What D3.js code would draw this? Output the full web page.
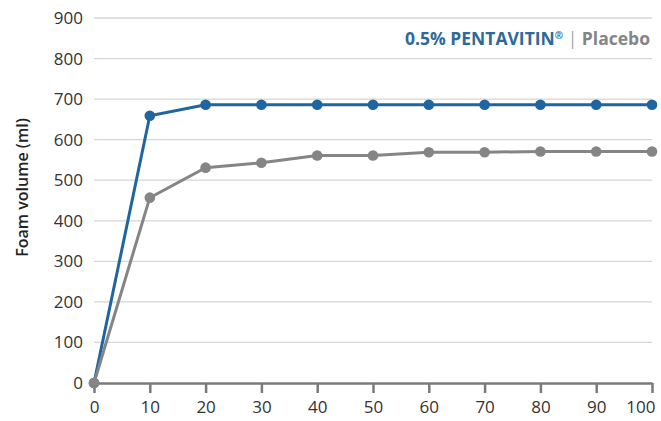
<html>
<script src="https://d3js.org/d3.v7.min.js"></script>
<style>
body { margin: 0; background: #fff; }
.axis { font: 17px "Open Sans", sans-serif; }
</style>
<body>
<script>
// data
var times = [0, 10, 20, 30, 40, 50, 60, 70, 80, 90, 100];
var pentavitin = [0, 659, 686, 686, 686, 686, 686, 686, 686, 686, 686];
var placebo = [0, 457, 531, 543, 561, 561, 569, 569, 571, 571, 571];
var yTicks = [0, 100, 200, 300, 400, 500, 600, 700, 800, 900];
var xTicks = [0, 10, 20, 30, 40, 50, 60, 70, 80, 90, 100];

var W = 661, H = 421;
var margin = {top: 18, right: 9, bottom: 38, left: 94};
var width = W - margin.left - margin.right,
    height = H - margin.top - margin.bottom;

var svg = d3.select("body").append("svg")
    .attr("width", W).attr("height", H)
  .append("g")
    .attr("transform", "translate(" + margin.left + "," + margin.top + ")");

var x = d3.scaleLinear().domain([0, 100]).range([0, width]);
var y = d3.scaleLinear().domain([0, 900]).range([height, 0]);

// gridlines
svg.selectAll(".grid")
    .data(yTicks.filter(function(d) { return d > 0; }))
    .enter().append("line")
    .attr("x1", 0).attr("x2", width)
    .attr("y1", function(d) { return y(d); })
    .attr("y2", function(d) { return y(d); })
    .attr("stroke", "#d6d6d6").attr("stroke-width", 1.3);

// y axis (labels only)
var ya = svg.append("g").attr("class", "axis")
    .call(d3.axisLeft(y).tickValues(yTicks).tickSize(0).tickPadding(11));
ya.select(".domain").remove();
ya.selectAll("text").attr("fill", "#333");

// x axis
var xa = svg.append("g").attr("class", "axis")
    .attr("transform", "translate(0," + height + ")")
    .call(d3.axisBottom(x).tickValues(xTicks).tickSize(10).tickSizeOuter(0).tickPadding(8));
xa.select(".domain").attr("stroke", "#7a7a7a").attr("stroke-width", 2.5);
xa.selectAll(".tick line").attr("stroke", "#7a7a7a").attr("stroke-width", 2.5);
xa.selectAll("text").attr("fill", "#333")
  .filter(function(d) { return d === 100; })
    .attr("text-anchor", "end").attr("dx", 3);

var line = d3.line()
    .x(function(d, i) { return x(times[i]); })
    .y(function(d) { return y(d); });

function series(vals, color) {
  svg.append("path").datum(vals)
    .attr("d", line)
    .attr("fill", "none")
    .attr("stroke", color)
    .attr("stroke-width", 3);
  svg.selectAll(null).data(vals).enter().append("circle")
    .attr("cx", function(d, i) { return x(times[i]); })
    .attr("cy", function(d) { return y(d); })
    .attr("r", 5.3)
    .attr("fill", color);
}
series(pentavitin, "#1f65a0");
series(placebo, "#858585");

// y label
svg.append("text")
    .attr("transform", "translate(" + (-66) + "," + (height / 2 - 13) + ")rotate(-90)")
    .attr("text-anchor", "middle")
    .style("font", "600 16px 'Open Sans', sans-serif")
    .attr("fill", "#222")
    .text("Foam volume (ml)");

// legend
var lg = svg.append("text")
    .attr("x", width - 2).attr("y", 27)
    .attr("text-anchor", "end")
    .style("font", "bold 17.5px 'Open Sans', sans-serif");
lg.append("tspan").attr("fill", "#2e6a98").text("0.5% PENTAVITIN");
lg.append("tspan").attr("fill", "#2e6a98").attr("font-size", 10).attr("dy", -6).text("®");
lg.append("tspan").attr("fill", "#aaa").attr("font-weight", "normal").attr("dy", 6).text(" | ");
lg.append("tspan").attr("fill", "#858585").text("Placebo");
</script>
</body>
</html>
